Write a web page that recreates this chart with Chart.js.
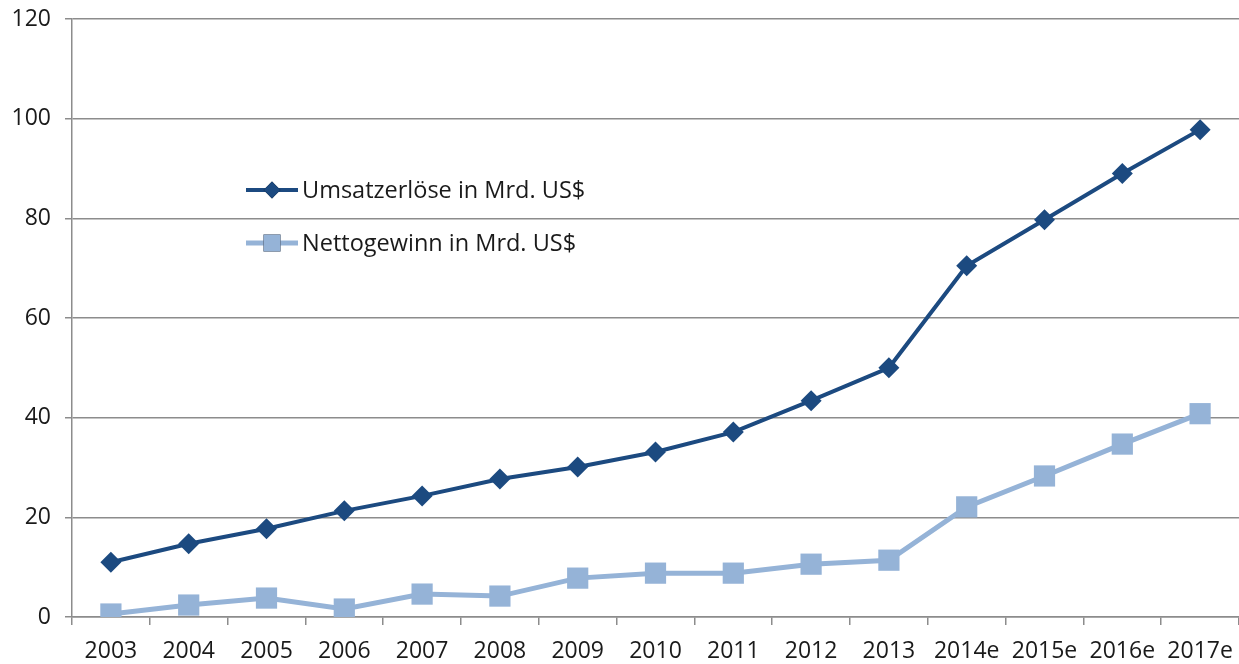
<!DOCTYPE html>
<html>
<head>
<meta charset="utf-8">
<script src="https://cdn.jsdelivr.net/npm/chart.js@4"></script>
<style>
  html, body { margin: 0; padding: 0; background: #fff; overflow: hidden; }
  canvas { display: block; }
</style>
</head>
<body>
<canvas id="c" width="1239" height="664"></canvas>
<script>
// --- 데이터 ---
const years = ['2003', '2004', '2005', '2006', '2007', '2008', '2009', '2010', '2011', '2012', '2013', '2014e', '2015e', '2016e', '2017e'];
const umsatz = [11.0, 14.7, 17.7, 21.3, 24.3, 27.7, 30.1, 33.1, 37.1, 43.4, 50.0, 70.5, 79.7, 89.0, 97.8];
const netto = [0.6, 2.4, 3.8, 1.6, 4.6, 4.2, 7.8, 8.8, 8.8, 10.6, 11.4, 22.1, 28.3, 34.7, 40.8];
const seriesNames = ['Umsatzerlöse in Mrd. US$', 'Nettogewinn in Mrd. US$'];

const FONT = '"Open Sans", "Liberation Sans", sans-serif';
const DARK = '#1C4A80';
const LIGHT = '#95B3D7';
const GRID = '#8C8C8C';
const TEXT = '#1a1a1a';

// 차트 영역 안쪽에 그리는 범례
const innerLegend = {
    id: 'innerLegend',
    afterDraw(chart) {
        const ctx = chart.ctx;
        const rows = [190, 243];
        chart.data.datasets.forEach((ds, i) => {
            const y = rows[i];
            ctx.save();
            ctx.strokeStyle = ds.borderColor;
            ctx.lineWidth = ds.borderWidth;
            ctx.beginPath();
            ctx.moveTo(246, y);
            ctx.lineTo(298, y);
            ctx.stroke();
            Chart.helpers.drawPoint(ctx, {
                pointStyle: ds.pointStyle,
                radius: ds.pointRadius * 0.8,
                borderWidth: 0
            }, 272, y);
            ctx.fillStyle = ds.pointBackgroundColor;
            ctx.fill();
            ctx.fillStyle = TEXT;
            ctx.font = '23.5px ' + FONT;
            ctx.textBaseline = 'middle';
            ctx.fillText(ds.label, 302, y + 1);
            ctx.restore();
        });
    }
};

new Chart(document.getElementById('c'), {
    type: 'line',
    data: {
        labels: years,
        datasets: [
            {
                label: seriesNames[0],
                data: umsatz,
                borderColor: DARK,
                borderWidth: 4,
                pointStyle: 'rectRot',
                pointRadius: 10.5,
                pointBackgroundColor: DARK,
                pointBorderWidth: 0,
                tension: 0
            },
            {
                label: seriesNames[1],
                data: netto,
                borderColor: LIGHT,
                borderWidth: 5,
                pointStyle: 'rect',
                pointRadius: 15,
                pointBackgroundColor: LIGHT,
                pointBorderWidth: 0,
                tension: 0
            }
        ]
    },
    options: {
        responsive: false,
        animation: false,
        layout: { autoPadding: false, padding: { top: 19, right: 0, bottom: 0, left: 0 } },
        plugins: {
            legend: { display: false },
            tooltip: { enabled: false }
        },
        scales: {
            x: {
                offset: true,
                grid: {
                    offset: true,
                    drawOnChartArea: false,
                    color: GRID,
                    lineWidth: 1.5,
                    tickLength: 8
                },
                border: { color: GRID, width: 1.5 },
                ticks: {
                    color: TEXT,
                    font: { family: FONT, size: 23 },
                    padding: 13,
                    maxRotation: 0,
                    autoSkip: false
                },
                afterFit(scale) {
                    scale.height = 47;
                    scale.paddingLeft = 0;
                    scale.paddingRight = 0;
                }
            },
            y: {
                min: 0,
                max: 120,
                ticks: {
                    stepSize: 20,
                    color: TEXT,
                    font: { family: FONT, size: 23 },
                    padding: 14
                },
                grid: {
                    color: GRID,
                    lineWidth: 1.5,
                    tickLength: 7
                },
                border: { color: GRID, width: 1.5 },
                afterFit(scale) {
                    scale.width = 72;
                    scale.paddingTop = 0;
                    scale.paddingBottom = 0;
                }
            }
        }
    },
    plugins: [innerLegend]
});
</script>
</body>
</html>
